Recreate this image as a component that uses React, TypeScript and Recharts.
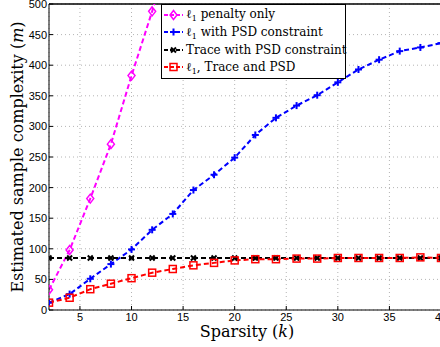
import React from "react";
import {
  LineChart,
  Line,
  XAxis,
  YAxis,
  CartesianGrid,
  Legend,
  ReferenceLine,
  Label,
} from "recharts";

const sparsity = [2, 4, 6, 8, 10, 12, 14, 16, 18, 20, 22, 24, 26, 28, 30, 32, 34, 36, 38, 40];
const l1PenaltyOnly = [33, 98, 182, 271, 383, 488, 600];
const l1WithPsd = [12, 26, 51, 75, 99, 131, 157, 196, 221, 249, 286, 314, 334, 351, 372, 393, 409, 423, 429, 436];
const traceWithPsd = [85, 85, 85, 85, 85, 85, 85, 85, 85, 85, 85, 85, 85, 85, 85, 85, 85, 85, 85, 85];
const l1TracePsd = [12, 20, 34, 43, 52, 61, 67, 73, 77, 81, 83, 83, 84, 84, 85, 85, 85, 85, 86, 85];
const xTicks = [5, 10, 15, 20, 25, 30, 35, 40];
const yTicks = [0, 50, 100, 150, 200, 250, 300, 350, 400, 450, 500];

const data = sparsity.map((k, i) => ({
  k,
  l1: l1PenaltyOnly[i],
  psd: l1WithPsd[i],
  trace: traceWithPsd[i],
  both: l1TracePsd[i],
}));

const serif = '"DejaVu Serif", serif';

type Marker = "diamond" | "plus" | "cross" | "square";

function drawMarker(kind: Marker, cx: number, cy: number, color: string, key?: React.Key) {
  if (kind === "diamond") {
    return (
      <polygon
        key={key}
        points={`${cx},${cy - 4.5} ${cx + 3.5},${cy} ${cx},${cy + 4.5} ${cx - 3.5},${cy}`}
        fill="none"
        stroke={color}
        strokeWidth={1.5}
      />
    );
  }
  if (kind === "plus") {
    return (
      <g key={key} stroke={color} strokeWidth={2}>
        <line x1={cx - 3.5} y1={cy} x2={cx + 3.5} y2={cy} />
        <line x1={cx} y1={cy - 3.5} x2={cx} y2={cy + 3.5} />
      </g>
    );
  }
  if (kind === "cross") {
    return (
      <g key={key} stroke={color} strokeWidth={2}>
        <line x1={cx - 2.5} y1={cy - 2.5} x2={cx + 2.5} y2={cy + 2.5} />
        <line x1={cx - 2.5} y1={cy + 2.5} x2={cx + 2.5} y2={cy - 2.5} />
      </g>
    );
  }
  return (
    <rect
      key={key}
      x={cx - 3.5}
      y={cy - 3.5}
      width={7}
      height={7}
      fill="none"
      stroke={color}
      strokeWidth={1.5}
    />
  );
}

const dotFor = (kind: Marker, color: string) => (props: any) => {
  const { cx, cy, index } = props;
  if (cx == null || cy == null || Number.isNaN(cy)) return <g key={`e-${index}`} />;
  return drawMarker(kind, cx, cy, color, `m-${index}`);
};

const sub: React.CSSProperties = { fontSize: 8, position: "relative", top: 3, verticalAlign: "baseline" };

const series = [
  {
    key: "l1",
    color: "#ff00ff",
    marker: "diamond" as Marker,
    label: (
      <>
        ℓ<sub style={sub}>1</sub> penalty only
      </>
    ),
  },
  {
    key: "psd",
    color: "#0000ff",
    marker: "plus" as Marker,
    label: (
      <>
        ℓ<sub style={sub}>1</sub> with PSD constraint
      </>
    ),
  },
  { key: "trace", color: "#000000", marker: "cross" as Marker, label: <>Trace with PSD constraint</> },
  {
    key: "both",
    color: "#ff0000",
    marker: "square" as Marker,
    label: (
      <>
        ℓ<sub style={sub}>1</sub>, Trace and PSD
      </>
    ),
  },
];

function LegendBox() {
  return (
    <div
      style={{
        boxSizing: "border-box",
        width: 185,
        border: "1px solid #000",
        background: "#fff",
        padding: "1px 2px 2px 2px",
        fontFamily: serif,
        fontSize: 12,
        color: "#000",
      }}
    >
      {series.map((s) => (
        <div key={s.key} style={{ display: "flex", alignItems: "center", height: 17.5, whiteSpace: "nowrap" }}>
          <svg width={19} height={12} style={{ flex: "none" }}>
            <line x1={0} y1={6} x2={19} y2={6} stroke={s.color} strokeWidth={2} strokeDasharray="4 2" />
            {drawMarker(s.marker, 9.5, 6, s.color)}
          </svg>
          <span style={{ marginLeft: 3 }}>{s.label}</span>
        </div>
      ))}
    </div>
  );
}

function XTitle(props: any) {
  const { x, y, width } = props.viewBox;
  return (
    <text x={x + width / 2 + 2} y={y + 27} textAnchor="middle" fontFamily={serif} fontSize={16} fill="#000">
      Sparsity (<tspan fontStyle="italic">k</tspan>)
    </text>
  );
}

function YTitle(props: any) {
  const { y, height } = props.viewBox;
  const cx = 23;
  const cy = y + height / 2;
  return (
    <text
      x={cx}
      y={cy}
      transform={`rotate(-90, ${cx}, ${cy})`}
      textAnchor="middle"
      fontFamily={serif}
      fontSize={16}
      fill="#000"
    >
      Estimated sample complexity (<tspan fontStyle="italic">m</tspan>)
    </text>
  );
}

export default function App() {
  const tickStyle = { fontSize: 11, fill: "#000", fontFamily: "Liberation Sans" };
  return (
    <div style={{ position: "absolute", left: 0, top: 0, width: 440, height: 347, overflow: "hidden", background: "#fff" }}>
      <LineChart width={442} height={347} data={data} margin={{ top: 4, right: 1, bottom: 0, left: 0 }}>
        <CartesianGrid stroke="#b4b4b4" strokeDasharray="1 3" />
        <XAxis
          dataKey="k"
          type="number"
          domain={[2, 40]}
          ticks={xTicks}
          allowDataOverflow
          height={37}
          tick={tickStyle}
          tickSize={-4}
          tickMargin={7}
          stroke="#000"
          interval={0}
        >
          <Label content={<XTitle />} />
        </XAxis>
        <YAxis
          type="number"
          domain={[0, 500]}
          ticks={yTicks}
          allowDataOverflow
          width={49}
          tick={tickStyle}
          tickSize={-4}
          tickMargin={6}
          stroke="#000"
          interval={0}
        >
          <Label content={<YTitle />} />
        </YAxis>
        <ReferenceLine y={500} stroke="#000" strokeWidth={1.5} />
        <ReferenceLine x={40} stroke="#000" />
        {series.map((s) => (
          <Line
            key={s.key}
            type="linear"
            dataKey={s.key}
            stroke={s.color}
            strokeWidth={2}
            strokeDasharray="5 3"
            dot={dotFor(s.marker, s.color)}
            activeDot={false}
            isAnimationActive={false}
          />
        ))}
        <Legend
          layout="vertical"
          align="center"
          verticalAlign="middle"
          content={<LegendBox />}
          wrapperStyle={{ left: 161, top: 4, width: 185, height: "auto" }}
        />
      </LineChart>
    </div>
  );
}
